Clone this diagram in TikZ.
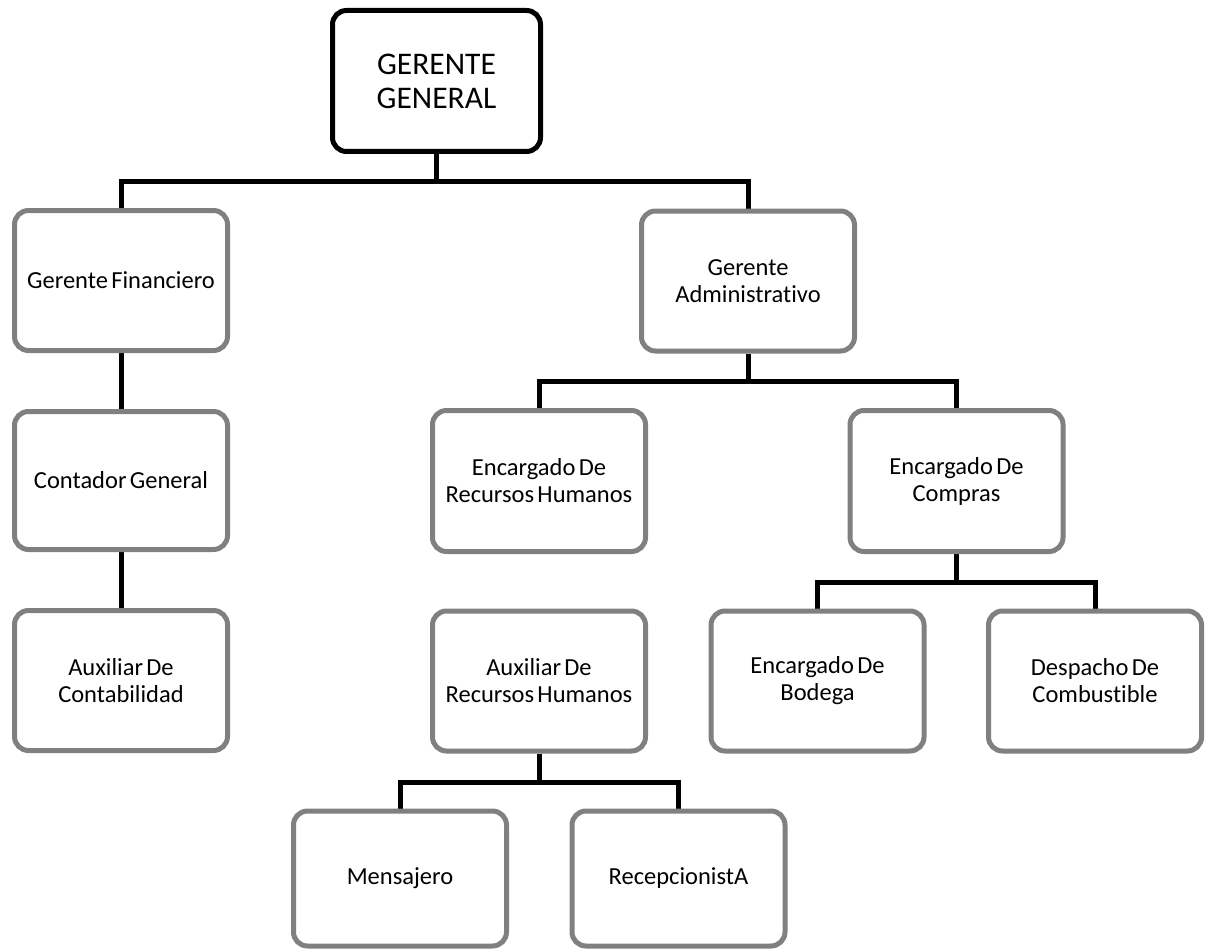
\documentclass[tikz,border=0pt]{standalone}
\usepackage{fontspec}
\setmainfont{Carlito}[WordSpace=0.6, Ligatures={NoCommon}]
\usetikzlibrary{backgrounds}
\begin{document}
\begin{tikzpicture}[x=1pt,y=-1pt,
  box/.style={draw=boxgray, line width=5pt, rounded corners=14pt,
    fill=white, minimum width=213pt, minimum height=140pt, align=center,
    inner sep=0pt, font=\fontsize{24.5}{27}\selectfont},
  topbox/.style={box, draw=black, minimum width=208pt, minimum height=141pt,
    font=\fontsize{31.5}{34}\selectfont},
  link/.style={draw=black, line width=5pt}]
\definecolor{boxgray}{RGB}{128,128,128}
\useasboundingbox (0,0) rectangle (1209,952);

% top level
\node[topbox] (gg) at (436.5,81) {GERENTE\\GENERAL};

% second level
\node[box] (gf) at (121,280.5) {Gerente Financiero};
\node[box] (ga) at (748,281) {Gerente\\Administrativo};

% finance branch
\node[box, minimum height=138pt] (cg) at (121,480.5) {Contador General};
\node[box] (ac) at (121,680.5) {Auxiliar De\\Contabilidad};

% administration branch
\node[box, minimum height=141pt] (er) at (539,481) {Encargado De\\Recursos Humanos};
\node[box, minimum height=141pt] (ec) at (956.5,481) {Encargado De\\Compras};
\node[box] (ar) at (539,681) {Auxiliar De\\Recursos Humanos};
\node[box] (eb) at (817.5,681) {Encargado De\\Bodega};
\node[box] (dc) at (1095,681) {Despacho De\\Combustible};
\node[box, minimum height=135pt] (me) at (400,878.5) {Mensajero};
\node[box, minimum height=135pt] (re) at (678.5,878.5) {RecepcionistA};

% bus levels
\coordinate (b1) at (0,182);
\coordinate (b2) at (0,381);
\coordinate (b3) at (0,582);
\coordinate (b4) at (0,782);

\begin{scope}[on background layer]
  \draw[link] (gg.south) -- (gg.south |- b1) -| (gf.north);
  \draw[link] (gg.south) -- (gg.south |- b1) -| (ga.north);
  \draw[link] (gf.south) -- (cg.north);
  \draw[link] (cg.south) -- (ac.north);
  \draw[link] (ga.south) -- (ga.south |- b2) -| (er.north);
  \draw[link] (ga.south) -- (ga.south |- b2) -| (ec.north);
  \draw[link] (ec.south) -- (ec.south |- b3) -| (eb.north);
  \draw[link] (ec.south) -- (ec.south |- b3) -| (dc.north);
  \draw[link] (ar.south) -- (ar.south |- b4) -| (me.north);
  \draw[link] (ar.south) -- (ar.south |- b4) -| (re.north);
\end{scope}
\end{tikzpicture}
\end{document}
